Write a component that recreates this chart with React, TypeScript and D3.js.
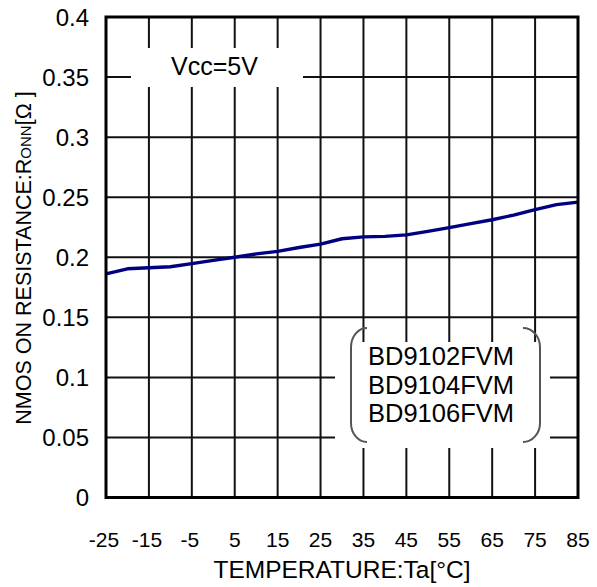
import React from 'react';
import * as d3 from 'd3';

// Data
const temps = [-25, -20, -15, -10, -5, 0, 5, 10, 15, 20, 25, 30, 35, 40, 45, 50, 55, 60, 65, 70, 75, 80, 85];
const ronValues = [0.1862, 0.1904, 0.1912, 0.1921, 0.1947, 0.1974, 0.2, 0.2028, 0.2049, 0.2081, 0.2109, 0.2154, 0.217, 0.2174, 0.2186, 0.2215, 0.2247, 0.228, 0.2312, 0.2351, 0.2397, 0.2438, 0.2459];
const xTicks = [-25, -15, -5, 5, 15, 25, 35, 45, 55, 65, 75, 85];
const yTicks = [0, 0.05, 0.1, 0.15, 0.2, 0.25, 0.3, 0.35, 0.4];
const yTickLabels = ['0', '0.05', '0.1', '0.15', '0.2', '0.25', '0.3', '0.35', '0.4'];
const partNumbers = ['BD9102FVM', 'BD9104FVM', 'BD9106FVM'];
const conditionLabel = 'Vcc=5V';
const xTitle = 'TEMPERATURE:Ta[°C]';

const FONT = '"Liberation Sans", Arial, sans-serif';

export default function App() {
  const W = 597;
  const H = 587;
  const left = 106, right = 578, top = 17, bottom = 497.5;
  const x = d3.scaleLinear().domain([-25, 85]).range([left, right]);
  const y = d3.scaleLinear().domain([0, 0.4]).range([bottom, top]);
  const pts: [number, number][] = temps.map((t, i) => [t, ronValues[i]]);
  const lineGen = d3.line<[number, number]>().x(d => x(d[0])).y(d => y(d[1]));

  const vGrid = xTicks.slice(1, -1);
  const hGrid = yTicks.slice(1, -1);
  const legendBaselines = [365, 393.5, 422];

  return (
    <svg width={W} height={H} style={{ position: 'absolute', left: 0, top: 0, background: '#fff' }} fontFamily={FONT}>
      <rect x={0} y={0} width={W} height={H} fill="#fff" />
      <g stroke="#111" strokeWidth={2}>
        {vGrid.map(t => (
          <line key={'v' + t} x1={x(t)} x2={x(t)} y1={top} y2={bottom} />
        ))}
        {hGrid.map(v => (
          <line key={'h' + v} x1={left} x2={right} y1={y(v)} y2={y(v)} />
        ))}
      </g>
      {/* white areas behind annotations */}
      <rect x={131} y={48} width={172} height={39} fill="#fff" />
      <rect x={335} y={342} width={215} height={106} fill="#fff" />
      {/* data line */}
      <path d={lineGen(pts) || ''} fill="none" stroke="#000080" strokeWidth={3.4} strokeLinejoin="round" />
      {/* frame */}
      <rect x={left} y={top} width={right - left} height={bottom - top} fill="none" stroke="#000" strokeWidth={3} />
      {/* brackets */}
      <g fill="none" stroke="#555" strokeWidth={2}>
        <path d="M 367 328 A 16 19 0 0 0 351 347 L 351 423 A 16 19 0 0 0 367 442" />
        <path d="M 523 328 A 17 19 0 0 1 540 347 L 540 423 A 17 19 0 0 1 523 442" />
      </g>
      {/* legend text */}
      {partNumbers.map((p, i) => (
        <text key={p} x={441} y={legendBaselines[i]} fontSize={25.5} textAnchor="middle" fill="#000">{p}</text>
      ))}
      <text x={214.5} y={75} fontSize={25} textAnchor="middle" fill="#000">{conditionLabel}</text>
      {/* y tick labels */}
      {yTicks.map((v, i) => (
        <text key={'yl' + v} x={89} y={y(v) + 8.5} fontSize={24} textAnchor="end" fill="#000">{yTickLabels[i]}</text>
      ))}
      {/* x tick labels */}
      {xTicks.map(t => (
        <text key={'xl' + t} x={x(t) - (t < 0 ? 2 : 0)} y={547} fontSize={21} textAnchor="middle" fill="#000">{String(t)}</text>
      ))}
      <text x={342} y={578} fontSize={24.5} textAnchor="middle" fill="#000">{xTitle}</text>
      <text transform="translate(31,258) rotate(-90)" fontSize={21.5} textAnchor="middle" fill="#000">
        <tspan>NMOS ON RESISTANCE:R</tspan>
        <tspan fontSize={15}>ONN</tspan>
        <tspan>[Ω ]</tspan>
      </text>
    </svg>
  );
}
